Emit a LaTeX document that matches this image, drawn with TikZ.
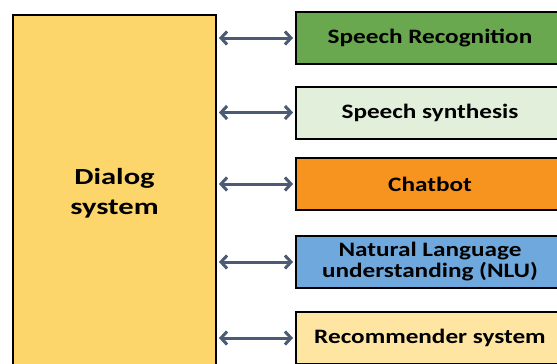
\documentclass[tikz,border=0pt]{standalone}
\usepackage{fontspec}
\setmainfont{Carlito}
\newfontfamily\sidefont[FakeStretch=1.23]{Carlito}
\newfontfamily\dlgfont[FakeStretch=1.33]{Carlito}
\usetikzlibrary{arrows.meta}
\definecolor{bigY}{HTML}{FCD56B}
\definecolor{cGreen}{HTML}{6AA84F}
\definecolor{cLGreen}{HTML}{E2EFDA}
\definecolor{cOrange}{HTML}{F7941F}
\definecolor{cBlue}{HTML}{6FA8DC}
\definecolor{cLYellow}{HTML}{FEE5A2}
\definecolor{arr}{HTML}{4A5B73}
\tikzset{
  sidebox/.style={draw=black, line width=2pt, minimum width=268pt, minimum height=52pt, inner sep=0pt, align=center, font=\sidefont\fontsize{20.5}{21}\selectfont\bfseries},
  biarrow/.style={arr, line width=3pt, {Straight Barb[length=6pt,width=13pt,line width=3pt]}-{Straight Barb[length=6pt,width=13pt,line width=3pt]}}
}
\begin{document}
\begin{tikzpicture}[x=1pt,y=-1pt]
\useasboundingbox (0,0) rectangle (557,364);
\node[draw=black, line width=2pt, fill=bigY, minimum width=203pt, minimum height=356pt, inner sep=0pt, align=center, font=\dlgfont\fontsize{23}{30}\selectfont\bfseries] (dlg) at (114.5,193) {Dialog\\system};
\node[sidebox, fill=cGreen] (sr) at (430,38) {Speech Recognition};
\node[sidebox, fill=cLGreen] (ss) at (430,112.5) {Speech synthesis};
\node[sidebox, fill=cOrange] (cb) at (430,184) {Chatbot};
\node[sidebox, fill=cBlue] (nlu) at (430,262) {Natural Language\\understanding (NLU)};
\node[sidebox, fill=cLYellow] (rs) at (430,338) {Recommender system};
\foreach \n in {sr,ss,cb,nlu,rs}{
  \draw[biarrow] (dlg.east |- \n.west) ++(2,0) coordinate (a\n) -- ([xshift=-2pt]\n.west);
}
\end{tikzpicture}
\end{document}
